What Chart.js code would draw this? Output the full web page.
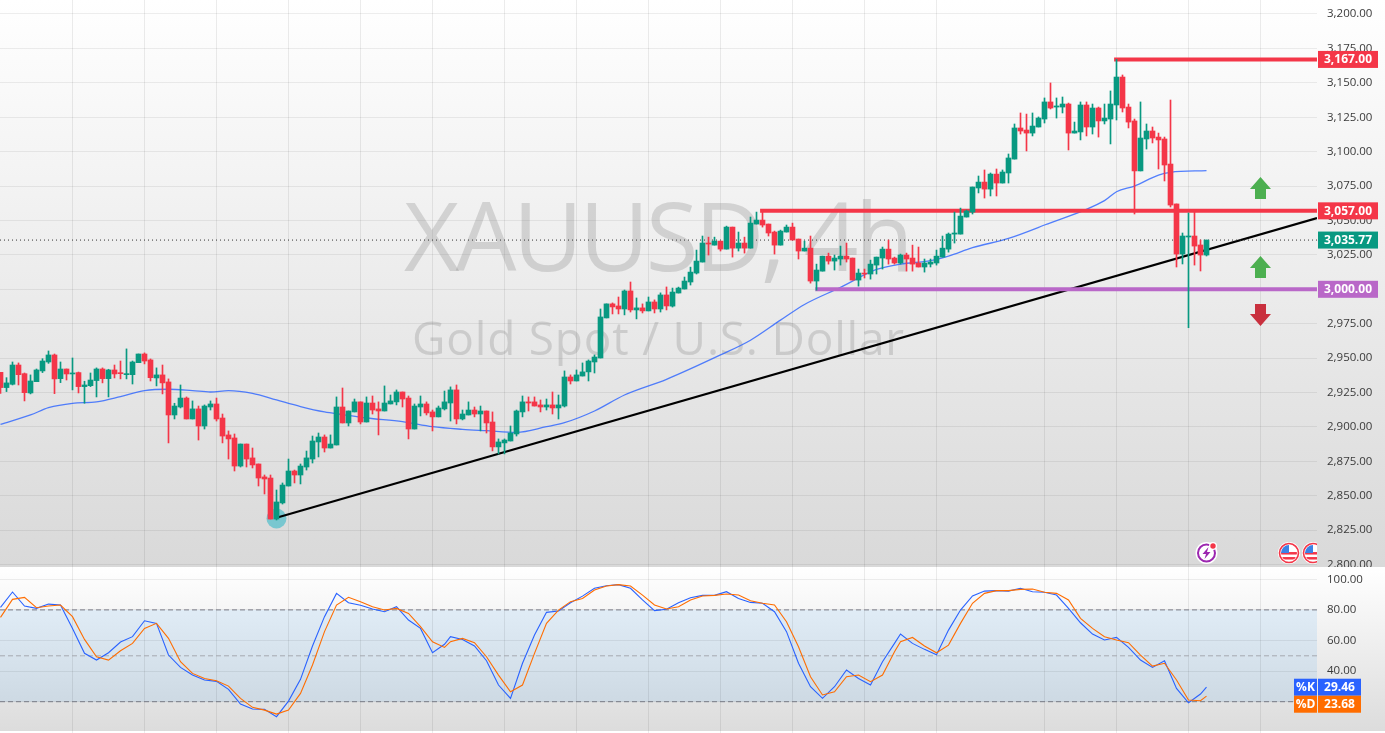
<!DOCTYPE html>
<html>
<head>
<meta charset="utf-8">
<title>XAUUSD 4h</title>
<script src="https://cdn.jsdelivr.net/npm/chart.js@4"></script>
<style>
	html, body { margin: 0; padding: 0; background: #fff; overflow: hidden; }
	canvas { position: absolute; left: 0; display: block; }
	#priceChart { top: 0; }
	#stochChart { top: 567px; }
</style>
</head>
<body>
<canvas id="priceChart" width="1385" height="567"></canvas>
<canvas id="stochChart" width="1385" height="166"></canvas>
<script>
const opens = [
	2939.7,2928.6,2931,2945,2938.7,2924.7,2932.9,2940.7,2947.2,2952.3,
	2935.1,2942.1,2938.5,2939.5,2929.3,2930,2933.7,2942.1,2935.1,2941.4,
	2939.2,2938,2938,2946.7,2953,2948.7,2935.6,2937.8,2932.7,2908.7,
	2914.5,2921,2905.8,2913.1,2900.7,2914.5,2916.7,2906.5,2894.2,2892,
	2871.6,2887.6,2877.5,2873.1,2863.7,2862.9,2833.1,2844.8,2857.1,2868,
	2865.1,2870.9,2876.7,2889.1,2892.7,2884.7,2886.9,2914.5,2902.9,2910.9,
	2918.2,2903.6,2917.4,2913.1,2911.6,2916.7,2918.2,2925.4,2921,2898.5,
	2914.5,2916.7,2910.9,2907.3,2913.1,2917.4,2926.9,2905.8,2908.7,2912.3,
	2909.4,2911.6,2903.6,2885.5,2888.4,2889.8,2894.9,2910.9,2918.2,2918.2,
	2916,2914.5,2916,2913.8,2915.2,2936.3,2933.4,2937,2940,2947.2,
	2950.1,2979.2,2989.4,2987.9,2985.7,2998.8,2985,2986.5,2984.3,2990.8,
	2985.7,2995.9,2987.8,2997.3,3000.2,3005.3,3011.8,3019.8,3033.6,3032.1,
	3035,3029.2,3045.2,3029.9,3033.6,3029.9,3047.4,3050.3,3047.4,3041.6,
	3032.1,3041.6,3045.2,3036.5,3027.8,3029.9,3006,3013.2,3024.1,3020.5,
	3022,3024.1,3022.7,3006.7,3011.8,3011.1,3017.6,3022.7,3029.2,3022.7,
	3019.1,3024.9,3022.7,3019.1,3016.2,3018.3,3019.1,3023.4,3029.2,3040.1,
	3040.1,3052.5,3056.1,3073.6,3077.9,3072.8,3083.7,3077.2,3084.5,3094.6,
	3117.2,3115.7,3113.5,3117.9,3123.7,3136.1,3132.4,3132.4,3134.6,3113.5,
	3114.3,3133.9,3117.9,3131.7,3122.3,3123.7,3133.9,3154.2,3132.4,3122.3,
	3086,3109.2,3115,3110.6,3109.2,3091,3062,3025.6,3038,3038.7,
	3032.2,3024.9
];
const highs = [
	2939.7,2935.8,2947.2,2946.5,2939.2,2937.8,2942.1,2949.6,2955.2,2953,
	2947.2,2942.1,2950.1,2939.9,2933.2,2939.2,2942.9,2942.9,2941.9,2945,
	2947.9,2956.7,2947.9,2953,2953.8,2949.4,2942.9,2945,2934.9,2917.2,
	2930.5,2921.8,2918.9,2915.2,2916,2918.9,2921,2909.4,2897.1,2894.9,
	2887.6,2887.6,2884.7,2873.1,2865.1,2865.1,2854.2,2859.3,2876.7,2868.7,
	2873.1,2882.5,2893.4,2895.6,2894.2,2894.2,2921.8,2928.3,2911.6,2920.3,
	2918.2,2921.8,2922.5,2918.2,2929.8,2923.2,2926.9,2925.4,2922.5,2916.7,
	2922.5,2918.2,2912.3,2915.2,2926.1,2929.1,2930.5,2912.3,2918.2,2914.5,
	2915.2,2911.6,2910.9,2891.3,2891.3,2900.7,2912.3,2922.5,2921.8,2921.8,
	2919.6,2920.3,2925.4,2923.2,2940.7,2937.8,2941.4,2946.5,2948.7,2952.3,
	2985.7,2989.4,2990.1,2994.4,2999.5,3005.3,2993.7,2989.4,2994.4,2992.3,
	2997.4,3001.7,3000.9,3001.6,3008.9,3016.1,3028.5,3038.7,3037.9,3037.9,
	3035,3045.9,3045.2,3041.6,3037.9,3052.5,3056.1,3057.6,3047.4,3042.3,
	3043,3046.7,3048.1,3036.5,3035,3038.7,3018.3,3024.1,3026.3,3024.9,
	3031.4,3033.6,3022.7,3014.7,3014.7,3021.2,3023.4,3030.7,3035.8,3023.4,
	3025.6,3026.3,3032.1,3030.7,3022,3022,3028.5,3038.7,3040.9,3056.1,
	3059,3057.6,3074.3,3082.3,3086.7,3084.5,3087.4,3086.7,3098.3,3120.1,
	3128.1,3127.3,3128.1,3125.2,3139,3149.9,3139,3139.7,3135.3,3121.5,
	3136.1,3136.1,3134.6,3132.4,3134.6,3144.1,3167,3155.7,3134.6,3123.7,
	3136.1,3120.1,3117.9,3113.5,3110.6,3137.5,3062,3040.9,3055.4,3056.1,
	3035.8,3035.77
];
const lows = [
	2924.4,2925.7,2930.5,2930.5,2918.9,2924,2932.9,2939.5,2946.2,2924.2,
	2932.2,2934.1,2926.9,2924.7,2917.2,2929.3,2921.8,2932,2921.8,2935.6,
	2934.9,2934.9,2931.2,2946.7,2945.8,2933.4,2929.8,2924,2888.4,2905.8,
	2913.8,2905.8,2905.8,2890.5,2898.5,2912.3,2904.3,2888.4,2876.7,2868,
	2870.9,2870.9,2870.2,2857.1,2851.3,2833.1,2832.4,2844,2857.1,2859.3,
	2858.6,2868.7,2873.8,2878.2,2881.8,2884.7,2886.9,2902.9,2900.7,2910.9,
	2902.2,2903.6,2909.4,2894.2,2911.6,2916.7,2916,2914.5,2891.3,2898.5,
	2908,2908.7,2897.1,2907.3,2912.3,2904.3,2902.2,2905.1,2908.7,2907.3,
	2897.1,2895.6,2882.6,2880.4,2880.4,2889.8,2893.4,2907.3,2911.6,2915.2,
	2910.9,2912.3,2909.4,2905.8,2914.5,2931.2,2933.4,2937,2933.4,2939.2,
	2950.1,2979.2,2982.1,2982.1,2981.4,2983.5,2978.5,2982.8,2984.3,2982.8,
	2983.5,2985,2987.1,2997.3,3000.2,3003.1,3011.1,3019.8,3024.9,3032.1,
	3027.8,3029.2,3023.4,3027.8,3026.3,3029.9,3047.4,3045.2,3038.7,3025.6,
	3032.1,3041.6,3035.8,3022,3027.8,3004.5,2999.4,3013.2,3018.3,3014,
	3017.6,3019.8,3006.7,3002.3,3008.2,3007.4,3011.1,3014.7,3018.3,3018.3,
	3018.3,3013.2,3013.2,3016.2,3012.5,3016.2,3017.6,3023.4,3027,3033.6,
	3040.1,3052.5,3054.7,3070,3066.3,3067.8,3067.8,3077.2,3077.2,3094.6,
	3112.8,3100.5,3111.4,3117.9,3120.8,3131,3124.4,3128.1,3101.2,3113.5,
	3108.5,3111.4,3112.8,3110.6,3120.1,3105.6,3123,3128.8,3117.2,3054.7,
	3086,3101.9,3106.3,3087.4,3078.7,3059.8,3016.2,3018.4,2972.1,3017.6,
	3013.3,3024.2
];
const closes = [
	2928.6,2932,2945,2938,2924.9,2933.4,2941.4,2947.9,2952.3,2934.9,
	2942.1,2938.5,2939.2,2929.3,2930.5,2934.1,2942.1,2935.1,2941.4,2938.5,
	2938.7,2938.5,2947.2,2953,2947.9,2935.8,2937.8,2932,2908.7,2915.2,
	2921,2905.8,2913.1,2900.7,2915.2,2916.7,2905.8,2893.4,2891.3,2871.6,
	2887.6,2876.7,2872.4,2862.9,2862.2,2833.1,2845.5,2857.8,2868,2865.1,
	2871.6,2877.5,2889.8,2892.7,2884.7,2887.6,2914.5,2902.9,2911.6,2918.2,
	2903.6,2917.4,2912.3,2911.6,2917.4,2918.9,2925.4,2920.3,2898.5,2915.2,
	2916.7,2910.2,2907.3,2913.8,2918.2,2926.9,2905.8,2909.4,2912.3,2909.4,
	2911.6,2902.9,2885.5,2889.1,2890.5,2895.6,2911.6,2918.2,2917.4,2915.2,
	2914.5,2916,2913.8,2916,2936.3,2933.4,2937.8,2940,2947.9,2950.8,
	2979.9,2989.4,2987.2,2985.7,2998.8,2985,2986.5,2984.3,2990.8,2985.7,
	2995.9,2987.9,2998,3000.9,3006,3012.5,3020.5,3033.6,3032.9,3035,
	3029.2,3045.2,3029.9,3033.6,3029.9,3048.1,3050.3,3046.7,3040.9,3032.1,
	3042.3,3045.2,3035.8,3027.8,3029.9,3006,3014,3024.1,3020.5,3022.7,
	3024.1,3022,3006.7,3011.8,3011.1,3018.3,3023.4,3029.2,3022,3019.1,
	3024.9,3022,3018.3,3016.2,3019.1,3019.8,3024.1,3029.9,3040.1,3040.9,
	3053.2,3056.9,3074.3,3077.9,3072.8,3083.7,3077.2,3085.2,3095.4,3117.2,
	3115,3113.5,3118.6,3124.4,3136.1,3131.7,3133.2,3134.6,3113.5,3115,
	3133.9,3117.9,3131.7,3122.3,3124.4,3134.6,3154.2,3131.7,3121.5,3086,
	3109.9,3115,3109.9,3108.5,3090.3,3061.2,3025.6,3038.7,3038.7,3031.4,
	3024.9,3035.77
];

// moving average, read at the bars where the curve changes
const maBars = [0,5,8,12,16,20,24,28,32,35,38,42,46,50,54,57,61,67,72,77,81,86,91,94,99,104,111,120,125,130,134,140,146,150,155,158,162,168,174,184,186,189,193,195,201];
const maValues = [2901.9,2908.7,2914,2917.2,2918.2,2922,2926.4,2927.4,2926.4,2925.4,2926.4,2924.4,2919.6,2914.8,2910.9,2909,2906.5,2903.9,2900.2,2898.3,2897.3,2896.1,2900.2,2903.1,2911.6,2923.2,2934.6,2952.3,2963,2977.6,2989,3001.4,3014.4,3018.3,3020.8,3024.1,3030.2,3037,3046.7,3064.4,3070.9,3075,3083,3085,3086.2];

const stochBars = [0,2,4,6,8,10,12,14,16,18,20,22,24,26,28,30,32,34,36,38,40,42,44,46,48,50,52,54,56,58,60,62,64,66,68,70,72,74,75,77,79,81,83,85,87,89,91,93,95,97,99,101,103,105,107,109,111,113,115,117,119,121,123,125,127,129,131,133,135,137,139,141,143,145,147,149,150,152,154,156,158,160,162,164,166,168,170,172,174,176,178,180,182,184,186,188,190,192,194,196,198,200,201];
const stochK = [81.7,91.7,82.5,81,83.8,83.2,67.9,51.6,47.2,52,59,62.5,72.9,71.2,50.5,42.4,37.4,34.2,33.3,28.1,18.5,15.2,15,10.2,20.4,34.6,56.4,75.6,90.8,84.7,83,80.6,78.8,82.1,73.4,67.9,52,57.5,62.5,60.7,56.4,46.8,30.9,22.2,45.1,63.6,78.4,79.3,84.7,89,94.1,95.8,96.5,94.1,86.5,79.5,80.4,84.7,88,89.5,89.5,91.9,87.5,84.9,84.3,78.8,65.8,45.1,29.8,22.2,29.8,40.7,35.2,30.9,46.1,58.1,64.2,58.1,54.2,50.7,66.8,79.9,89.1,92.3,92.6,92.3,94.1,91.9,91.5,89.7,81,71.6,64.2,60.3,62,55.5,47.2,42.4,46.8,28.7,19.3,25,29.46];
const stochD = [75.1,86.9,88.2,81.4,82.5,83.2,75.6,60.7,49.4,47.2,53.3,58.1,67.9,71.2,61.4,46.1,38.5,35.2,33.7,30.2,22.2,16.3,14.5,11.9,14.5,25.4,44,65.8,83.2,88.2,85.4,82.1,79.9,81,77.7,69,59.2,55.5,59.2,61.4,58.6,49.4,37.4,26.5,30.9,51.6,71.2,79.9,85.4,87.5,93,95.6,96.5,95.6,89.7,83.2,80.6,82.1,86.5,89.1,89.5,90.4,89.7,86,84.3,83.2,72.3,55.9,36.3,24.4,26.5,36.3,37.4,33.1,37.4,52.7,59.2,62,56.4,52,57,71.2,84.3,90.8,92.6,92.6,93.4,93.6,91.5,90.8,86.5,74.5,67.9,62.5,60.3,58.6,50.5,43.3,45.1,34.2,21.1,20.6,23.68];

const priceTicks = [3200,3175,3150,3125,3100,3075,3050,3025,3000,2975,2950,2925,2900,2875,2850,2825,2800];
const stochTicks = [100,80,60,40,20];
const stochLevels = [80,50,20];
const gridBars = [12,24,36,48,60,72,84,96,108,120,132,144,156,174,186,198,210];

const resistanceHigh = 3167;
const resistanceMid = 3057;
const supportLevel = 3000;
const lastPrice = 3035.77;
const lastK = 29.46;
const lastD = 23.68;
const trendBars = [46,219.42];
const trendPrices = [2834,3051.8];
const highStart = 185.6;
const midStart = 126.6;
const lowStart = 135.8;
const pivotBar = 46;
const pivotPrice = 2833.5;
const arrowBar = 210;
const arrowUpPrices = [3073.6,3016.2];
const arrowDownPrices = [2981.3];
const eventBars = [201,214.75,218.75];
const eventPrice = 2808.4;

const GREEN = '#089981';
const RED = '#f43648';
const PURPLE = '#b968c8';
const AXIS_FONT = '"Open Sans", sans-serif';
const xMin = -0.0833;
const xMax = 219.4167;

function money(v) {
	return v.toLocaleString('en-US', { minimumFractionDigits: 2, maximumFractionDigits: 2 });
}

function segment(x1, y1, x2, y2) {
	return [{ x: x1, y: y1 }, { x: x2, y: y2 }];
}

function lineSet(data, color, width, order, dash) {
	return {
		type: 'line',
		data: data,
		borderColor: color,
		borderWidth: width,
		borderDash: dash || [],
		pointRadius: 0,
		tension: 0,
		order: order
	};
}

function xAxis() {
	return {
		type: 'linear',
		min: xMin,
		max: xMax,
		offset: false,
		afterBuildTicks: function (s) { s.ticks = gridBars.map(function (b) { return { value: b }; }); },
		afterFit: function (s) { s.height = 0; },
		ticks: { display: false, autoSkip: false },
		border: { display: false },
		grid: { offset: false, color: 'rgba(0,0,0,0.075)', drawTicks: false }
	};
}

function yAxis(min, max, tickList) {
	return {
		position: 'right',
		min: min,
		max: max,
		afterBuildTicks: function (s) { s.ticks = tickList.map(function (v) { return { value: v }; }); },
		afterFit: function (s) { s.width = 68; s.paddingTop = 0; s.paddingBottom = 0; },
		ticks: {
			autoSkip: false,
			padding: 10,
			color: '#3a3a3a',
			font: { family: AXIS_FONT, size: 11.5 },
			callback: function (v) { return money(v); }
		},
		border: { display: false },
		grid: { color: 'rgba(0,0,0,0.065)', drawTicks: false }
	};
}

function tag(ctx, x, y, w, h, color, text) {
	ctx.fillStyle = color;
	ctx.fillRect(x, y - h / 2, w, h);
	ctx.fillStyle = '#fff';
	ctx.font = 'bold 12px ' + AXIS_FONT;
	ctx.textAlign = 'center';
	ctx.textBaseline = 'middle';
	ctx.fillText(text, x + w / 2, y + 0.5);
}

function arrow(ctx, x, y, dir, color) {
	ctx.fillStyle = color;
	ctx.beginPath();
	ctx.moveTo(x, y - 11 * dir);
	ctx.lineTo(x + 10.5, y + 1 * dir);
	ctx.lineTo(x + 5.5, y + 1 * dir);
	ctx.lineTo(x + 5.5, y + 11 * dir);
	ctx.lineTo(x - 5.5, y + 11 * dir);
	ctx.lineTo(x - 5.5, y + 1 * dir);
	ctx.lineTo(x - 10.5, y + 1 * dir);
	ctx.closePath();
	ctx.fill();
}

function boltIcon(ctx, x, y) {
	ctx.fillStyle = '#fff';
	ctx.beginPath(); ctx.arc(x, y, 11, 0, Math.PI * 2); ctx.fill();
	ctx.strokeStyle = '#9c27b0';
	ctx.lineWidth = 2;
	ctx.beginPath(); ctx.arc(x, y, 8.5, 0, Math.PI * 2); ctx.stroke();
	ctx.fillStyle = '#9c27b0';
	ctx.beginPath();
	ctx.moveTo(x + 2, y - 6);
	ctx.lineTo(x - 4, y + 1);
	ctx.lineTo(x - 0.5, y + 1);
	ctx.lineTo(x - 2, y + 6);
	ctx.lineTo(x + 4, y - 1);
	ctx.lineTo(x + 0.5, y - 1);
	ctx.closePath();
	ctx.fill();
	ctx.fillStyle = '#fff';
	ctx.beginPath(); ctx.arc(x + 6.5, y - 7, 4, 0, Math.PI * 2); ctx.fill();
	ctx.fillStyle = RED;
	ctx.beginPath(); ctx.arc(x + 6.5, y - 7, 2.7, 0, Math.PI * 2); ctx.fill();
}

function flagIcon(ctx, x, y) {
	ctx.fillStyle = '#fff';
	ctx.beginPath(); ctx.arc(x, y, 11, 0, Math.PI * 2); ctx.fill();
	ctx.save();
	ctx.beginPath(); ctx.arc(x, y, 8, 0, Math.PI * 2); ctx.clip();
	ctx.fillStyle = '#fff';
	ctx.fillRect(x - 9, y - 9, 18, 18);
	ctx.fillStyle = RED;
	ctx.fillRect(x - 9, y - 1, 18, 2.5);
	ctx.fillRect(x - 9, y + 4, 18, 2.5);
	ctx.fillStyle = '#3b82e6';
	ctx.fillRect(x - 9, y - 9, 9, 9);
	ctx.restore();
	ctx.strokeStyle = RED;
	ctx.lineWidth = 1.6;
	ctx.beginPath(); ctx.arc(x, y, 9.5, 0, Math.PI * 2); ctx.stroke();
}

const pricePanel = {
	id: 'pricePanel',
	beforeDraw: function (chart) {
		const ctx = chart.ctx;
		const g = ctx.createLinearGradient(0, 0, 0, 567);
		g.addColorStop(0, '#ffffff');
		g.addColorStop(1, '#d9d9d9');
		ctx.fillStyle = g;
		ctx.fillRect(0, 0, 1385, 567);
	},
	beforeDatasetsDraw: function (chart) {
		const ctx = chart.ctx;
		ctx.save();
		ctx.fillStyle = 'rgba(130,130,130,0.28)';
		ctx.textAlign = 'left';
		ctx.textBaseline = 'alphabetic';
		ctx.font = '96px "Open Sans", sans-serif';
		ctx.letterSpacing = '-3.6px';
		ctx.fillText('XAUUSD, 4h', 404, 271);
		ctx.font = '46px "Open Sans", sans-serif';
		ctx.letterSpacing = '0.8px';
		ctx.fillText('Gold Spot / U.S. Dollar', 412, 355);
		ctx.letterSpacing = '0px';
		ctx.restore();
	},
	afterDraw: function (chart) {
		const ctx = chart.ctx;
		const x = chart.scales.x;
		const y = chart.scales.y;
		ctx.save();
		arrowUpPrices.forEach(function (p) { arrow(ctx, x.getPixelForValue(arrowBar), y.getPixelForValue(p), 1, '#4caf50'); });
		arrowDownPrices.forEach(function (p) { arrow(ctx, x.getPixelForValue(arrowBar), y.getPixelForValue(p), -1, '#c9303e'); });
		ctx.beginPath();
		ctx.rect(0, 0, 1317, 567);
		ctx.clip();
		boltIcon(ctx, x.getPixelForValue(eventBars[0]), y.getPixelForValue(eventPrice));
		flagIcon(ctx, x.getPixelForValue(eventBars[1]), y.getPixelForValue(eventPrice));
		flagIcon(ctx, x.getPixelForValue(eventBars[2]), y.getPixelForValue(eventPrice));
		ctx.restore();
		ctx.save();
		tag(ctx, 1318, y.getPixelForValue(resistanceHigh), 60, 17, RED, money(resistanceHigh));
		tag(ctx, 1318, y.getPixelForValue(resistanceMid), 60, 17, RED, money(resistanceMid));
		tag(ctx, 1318, y.getPixelForValue(lastPrice), 60, 17, GREEN, money(lastPrice));
		tag(ctx, 1318, y.getPixelForValue(supportLevel), 60, 17, PURPLE, money(supportLevel));
		ctx.restore();
	}
};

const stochPanel = {
	id: 'stochPanel',
	beforeDraw: function (chart) {
		const ctx = chart.ctx;
		const g = ctx.createLinearGradient(0, 0, 0, 164);
		g.addColorStop(0, '#ffffff');
		g.addColorStop(1, '#dcdcdc');
		ctx.fillStyle = g;
		ctx.fillRect(0, 0, 1385, 164);
		const y = chart.scales.y;
		const top = y.getPixelForValue(stochLevels[0]);
		const bottom = y.getPixelForValue(stochLevels[2]);
		ctx.fillStyle = 'rgba(33,150,243,0.1)';
		ctx.fillRect(0, top, 1317, bottom - top);
	},
	afterDraw: function (chart) {
		const ctx = chart.ctx;
		const y = chart.scales.y;
		ctx.save();
		const ky = y.getPixelForValue(lastK);
		const dy = ky + 17;
		tag(ctx, 1294, ky, 23, 17, '#2962ff', '%K');
		tag(ctx, 1318, ky, 43, 17, '#2962ff', lastK.toFixed(2));
		tag(ctx, 1294, dy, 23, 17, '#ff6d00', '%D');
		tag(ctx, 1318, dy, 43, 17, '#ff6d00', lastD.toFixed(2));
		ctx.restore();
	}
};

function createPriceChart() {
	const bodies = opens.map(function (o, i) { return { x: i, y: [o, closes[i]] }; });
	const wicks = lows.map(function (l, i) { return { x: i, y: [l, highs[i]] }; });
	const colors = closes.map(function (c, i) { return c >= opens[i] ? GREEN : RED; });
	const ma = maBars.map(function (b, i) { return { x: b, y: maValues[i] }; });
	const trend = trendBars.map(function (b, i) { return { x: b, y: trendPrices[i] }; });
	const maLine = lineSet(ma, 'rgba(41,98,255,0.8)', 1.3, 11);
	maLine.cubicInterpolationMode = 'monotone';
	const pivot = lineSet([{ x: pivotBar, y: pivotPrice }], 'transparent', 0, 20);
	pivot.showLine = false;
	pivot.pointRadius = 10;
	pivot.pointBackgroundColor = 'rgba(0,172,193,0.45)';
	pivot.pointBorderWidth = 0;

	new Chart(document.getElementById('priceChart').getContext('2d'), {
		type: 'bar',
		data: {
			datasets: [
				{ data: bodies, backgroundColor: colors, barThickness: 5, minBarLength: 1, grouped: false, order: 1 },
				{ data: wicks, backgroundColor: colors, barThickness: 1, minBarLength: 1, grouped: false, order: 2 },
				lineSet(trend, '#000000', 2.2, 10),
				lineSet(segment(highStart, resistanceHigh, xMax, resistanceHigh), RED, 4, 9),
				lineSet(segment(midStart, resistanceMid, xMax, resistanceMid), RED, 4, 9),
				lineSet(segment(lowStart, supportLevel, xMax, supportLevel), PURPLE, 4, 9),
				lineSet(segment(xMin, lastPrice, xMax, lastPrice), '#333333', 1, 3, [1, 3]),
				maLine,
				pivot
			]
		},
		options: {
			responsive: false,
			animation: false,
			devicePixelRatio: 1,
			layout: { padding: 0, autoPadding: false },
			events: [],
			plugins: { legend: { display: false }, tooltip: { enabled: false } },
			scales: {
				x: xAxis(),
				y: yAxis(2798.26, 3210.17, priceTicks)
			}
		},
		plugins: [pricePanel]
	});
}

function createStochChart() {
	const k = stochBars.map(function (b, i) { return { x: b, y: stochK[i] }; });
	const d = stochBars.map(function (b, i) { return { x: b, y: stochD[i] }; });
	const colorsByLevel = ['#787b86', '#a6a8b0', '#787b86'];
	const levels = stochLevels.map(function (v, i) {
		return lineSet(segment(xMin, v, xMax, v), colorsByLevel[i], 1, 5, [5, 3]);
	});

	new Chart(document.getElementById('stochChart').getContext('2d'), {
		type: 'line',
		data: {
			datasets: levels.concat([
				lineSet(k, '#2962ff', 1.1, 2),
				lineSet(d, '#ff6d00', 1.1, 1)
			])
		},
		options: {
			responsive: false,
			animation: false,
			devicePixelRatio: 1,
			layout: { padding: 0, autoPadding: false },
			events: [],
			plugins: { legend: { display: false }, tooltip: { enabled: false } },
			scales: {
				x: xAxis(),
				y: yAxis(-0.46, 108.04, stochTicks)
			}
		},
		plugins: [stochPanel]
	});
}

createPriceChart();
createStochChart();
</script>
</body>
</html>
